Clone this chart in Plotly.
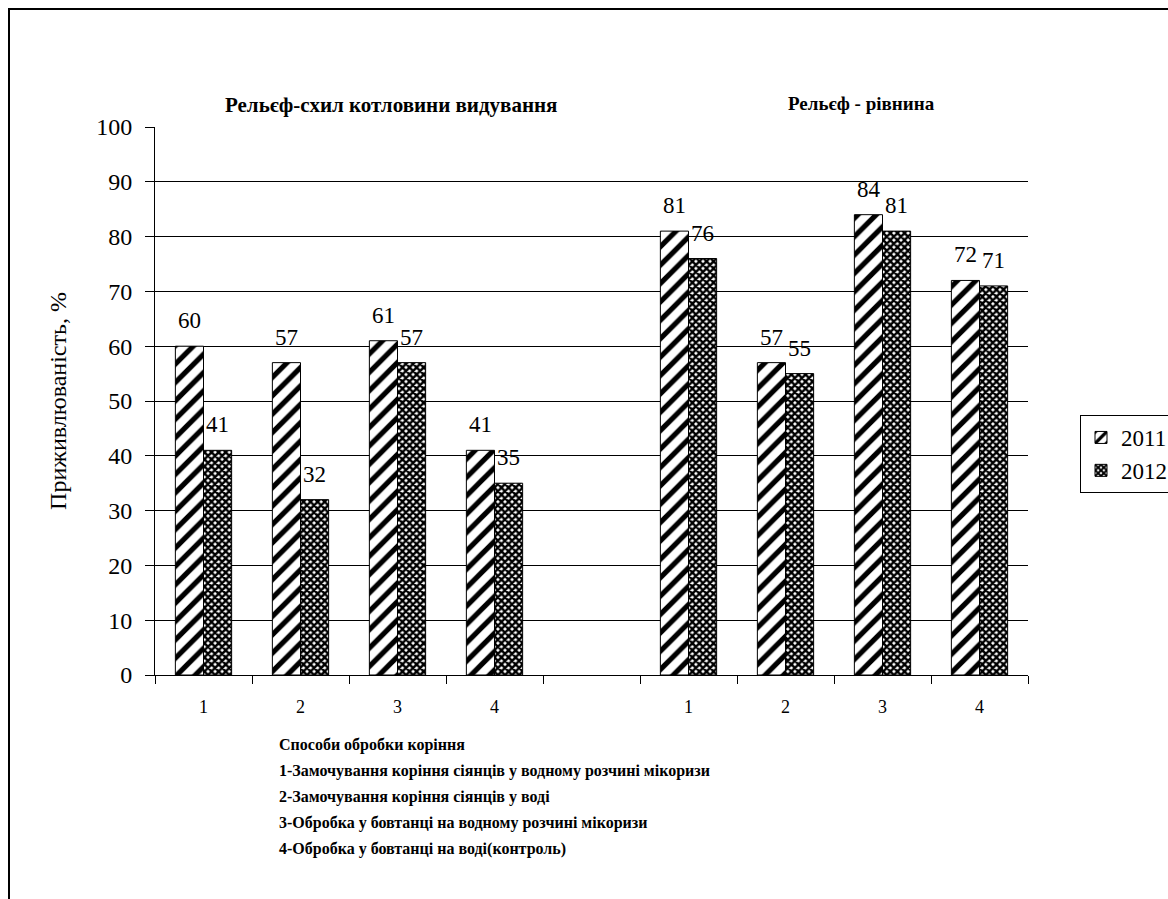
import plotly.graph_objects as go

positions = [0, 1, 2, 3, 5, 6, 7, 8]
tick_labels = ["1", "2", "3", "4", "1", "2", "3", "4"]
y2011 = [60, 57, 61, 41, 81, 57, 84, 72]
y2012 = [41, 32, 57, 35, 76, 55, 81, 71]
y_ticks = list(range(0, 101, 10))
group_titles = ["Рельєф-схил котловини видування", "Рельєф - рівнина"]
notes = [
    "Способи обробки коріння",
    "1-Замочування коріння сіянців у водному розчині мікоризи",
    "2-Замочування коріння сіянців у воді",
    "3-Обробка у бовтанці на водному розчині мікоризи",
    "4-Обробка у бовтанці на воді(контроль)",
]

SERIF = "Liberation Serif"

fig = go.Figure()
fig.add_trace(go.Bar(
    x=positions, y=y2011, name="2011",
    marker=dict(color="white", line=dict(color="black", width=1),
                pattern=dict(shape="/", fgcolor="black", bgcolor="white", fgopacity=1,
                             size=13, solidity=0.4)),
))
fig.add_trace(go.Bar(
    x=positions, y=y2012, name="2012",
    marker=dict(color="white", line=dict(color="black", width=1),
                pattern=dict(shape="x", fgcolor="black", bgcolor="white", fgopacity=1,
                             size=5, solidity=0.72)),
))

annotations = []
for xv, v in zip(positions, y2011):
    annotations.append(dict(x=xv, y=v, xref="x", yref="y", text=str(v), showarrow=False,
                            xshift=-14, yshift=11, yanchor="bottom",
                            font=dict(family=SERIF, size=23, color="black")))
for xv, v in zip(positions, y2012):
    annotations.append(dict(x=xv, y=v, xref="x", yref="y", text=str(v), showarrow=False,
                            xshift=14, yshift=11, yanchor="bottom",
                            font=dict(family=SERIF, size=23, color="black")))

# group titles
annotations.append(dict(x=1.93, y=1.0, xref="x", yref="paper", text="<b>" + group_titles[0] + "</b>",
                        showarrow=False, yshift=36, font=dict(family=SERIF, size=21, color="black")))
annotations.append(dict(x=6.78, y=1.0, xref="x", yref="paper", text="<b>" + group_titles[1] + "</b>",
                        showarrow=False, yshift=36, font=dict(family=SERIF, size=19, color="black")))

# notes under the chart
W, H = 873, 548
for i, t in enumerate(notes):
    ypx = 745 + 26 * i
    annotations.append(dict(x=(277 - 155) / W, y=-(ypx - 675) / H, xref="paper", yref="paper",
                            text="<b>" + t + "</b>", showarrow=False, xanchor="left", yanchor="middle",
                            font=dict(family=SERIF, size=16, color="black")))

fig.update_layout(
    width=1168, height=899,
    margin=dict(l=155, r=140, t=127, b=224, autoexpand=False),
    paper_bgcolor="white", plot_bgcolor="white",
    barmode="group", bargap=0.42, bargroupgap=0,
    showlegend=True,
    legend=dict(x=(1080 - 155) / W, y=1 - (415 - 127) / H, xanchor="left", yanchor="top",
                bordercolor="black", borderwidth=1, bgcolor="white",
                font=dict(family=SERIF, size=23, color="black"),
                tracegroupgap=2, itemwidth=30),
    annotations=annotations,
    font=dict(family=SERIF, color="black"),
    xaxis=dict(range=[-0.5, 8.5], tickvals=positions, ticktext=tick_labels, ticks="",
               showline=True, linecolor="black", linewidth=1, showgrid=False, zeroline=False,
               tickfont=dict(family=SERIF, size=18, color="black"), ticklabelstandoff=15,
               minor=dict(tick0=-0.5, dtick=1, ticks="outside", ticklen=8, tickcolor="black",
                          tickwidth=1, showgrid=False)),
    yaxis=dict(range=[0, 100], tickvals=y_ticks, ticks="outside", ticklen=9, tickcolor="black",
               showline=True, linecolor="black", linewidth=1,
               showgrid=True, gridcolor="black", gridwidth=1, zeroline=False,
               tickfont=dict(family=SERIF, size=24, color="black"), ticklabelstandoff=8,
               title=dict(text="Приживлюваність, %", font=dict(family=SERIF, size=24, color="black"),
                          standoff=22)),
    shapes=[dict(type="rect", xref="paper", yref="paper",
                 x0=(9 - 155) / W, x1=(1180 - 155) / W,
                 y0=-(910 - 675) / H, y1=1 + (127 - 9) / H,
                 line=dict(color="black", width=2), fillcolor="rgba(0,0,0,0)", layer="below")],
)

fig.write_html("out.html")
